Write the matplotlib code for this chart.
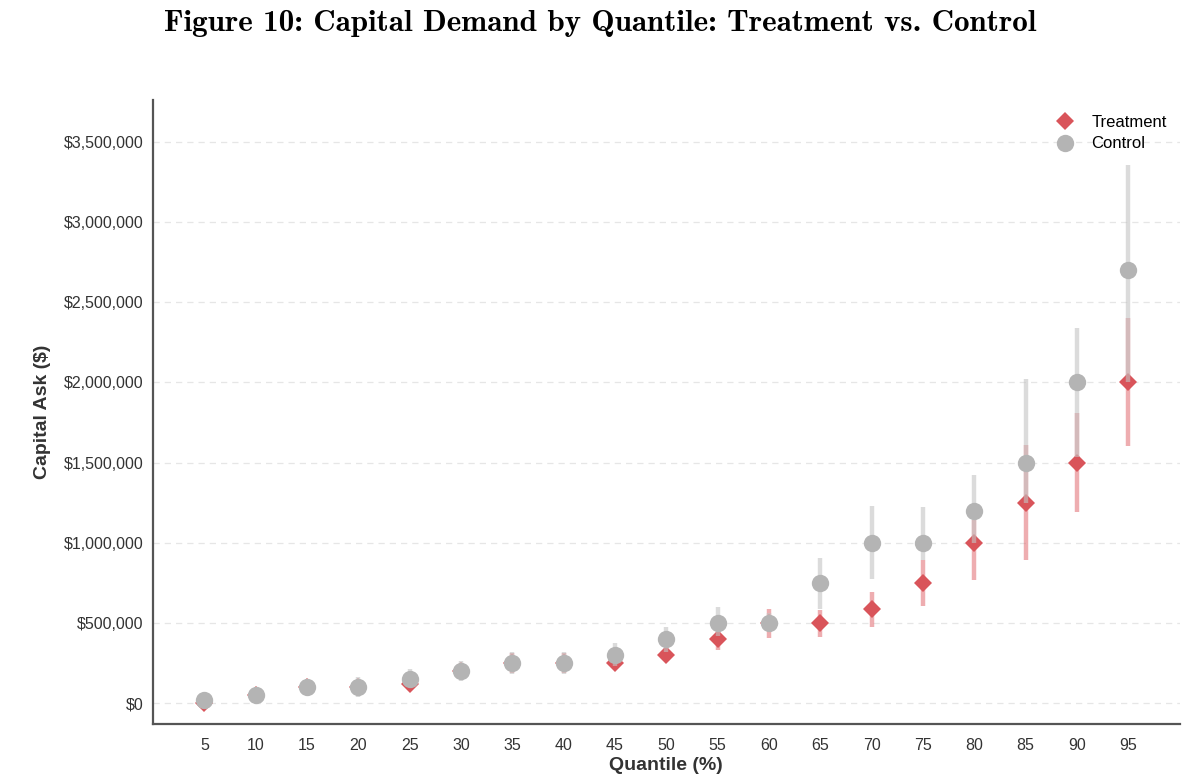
import numpy as np
import matplotlib
matplotlib.use('Agg')
import matplotlib.pyplot as plt
from matplotlib.ticker import FuncFormatter

# Quantiles and estimates
quantiles = [5, 10, 15, 20, 25, 30, 35, 40, 45, 50, 55, 60, 65, 70, 75, 80, 85, 90, 95]

treat_est = [0, 50000, 100000, 100000, 120000, 200000, 250000, 250000, 250000, 300000,
             400000, 500000, 500000, 590000, 750000, 1000000, 1250000, 1500000, 2000000]
treat_lo = [-30000, 10000, 60000, 50000, 80000, 150000, 190000, 190000, 210000, 265000,
            330000, 405000, 410000, 475000, 605000, 767000, 892000, 1192000, 1600000]
treat_hi = [30000, 80000, 140000, 140000, 170000, 250000, 310000, 310000, 300000, 345000,
            470000, 590000, 580000, 690000, 890000, 1141000, 1610000, 1810000, 2400000]

ctrl_est = [20000, 50000, 100000, 100000, 150000, 200000, 250000, 250000, 300000, 400000,
            500000, 500000, 750000, 1000000, 1000000, 1200000, 1500000, 2000000, 2700000]
ctrl_lo = [0, 10000, 60000, 40000, 100000, 140000, 180000, 180000, 230000, 320000,
           420000, 450000, 590000, 775000, 890000, 1000000, 1250000, 1535000, 2000000]
ctrl_hi = [40000, 90000, 140000, 160000, 210000, 260000, 320000, 320000, 375000, 475000,
           600000, 560000, 905000, 1230000, 1225000, 1423000, 2021000, 2340000, 3357000]

red = '#d9545a'
grey = '#b4b4b4'

plt.rcParams['font.family'] = ['Liberation Sans', 'DejaVu Sans']

fig = plt.figure(figsize=(12, 7.84), dpi=100)
ax = fig.add_axes([0.1275, 0.0765, 0.8555, 0.796])

x = np.array(quantiles)

# treatment: CI bars then diamonds
ax.vlines(x, treat_lo, treat_hi, color='#e06a70', alpha=0.55, linewidth=3.2, zorder=2)
ax.plot(x, treat_est, linestyle='none', marker='D', markersize=9.5, color=red,
        markeredgewidth=0, label='Treatment', zorder=3)

# control: CI bars then circles
ax.vlines(x, ctrl_lo, ctrl_hi, color='#c4c4c4', alpha=0.6, linewidth=3.2, zorder=4)
ax.plot(x, ctrl_est, linestyle='none', marker='o', markersize=12.5, color=grey,
        markeredgewidth=0, label='Control', zorder=5)

ax.set_xlim(0, 100)
ax.set_ylim(-130000, 3760000)
ax.set_xticks(quantiles)
ax.set_xticklabels([str(q) for q in quantiles])
ax.set_yticks(np.arange(0, 3500001, 500000))
ax.yaxis.set_major_formatter(FuncFormatter(lambda v, p: f'${v:,.0f}'))

ax.tick_params(axis='both', length=0, labelsize=11.5, colors='#333333')
ax.tick_params(axis='x', pad=10)
ax.tick_params(axis='y', pad=7)
ax.grid(axis='y', linestyle=(0, (5, 4)), color='#e6e6e6', linewidth=0.9)
ax.set_axisbelow(True)

for s in ['top', 'right']:
    ax.spines[s].set_visible(False)
for s in ['left', 'bottom']:
    ax.spines[s].set_color('#555555')
    ax.spines[s].set_linewidth(1.6)

ax.set_xlabel('Quantile (%)', fontsize=14, fontweight='bold', color='#333333', labelpad=3)
ax.set_ylabel('Capital Ask ($)', fontsize=14, fontweight='bold', color='#333333', labelpad=9)

ax.legend(loc='upper right', frameon=False, fontsize=12, handletextpad=0.6,
          labelspacing=0.4, borderaxespad=0.3, bbox_to_anchor=(0.999, 0.995))

fig.text(0.5, 0.970, 'Figure 10: Capital Demand by Quantile: Treatment vs. Control',
         ha='center', va='center', fontsize=22.4, family='cmb10')

fig.savefig('out.png', dpi=100)
